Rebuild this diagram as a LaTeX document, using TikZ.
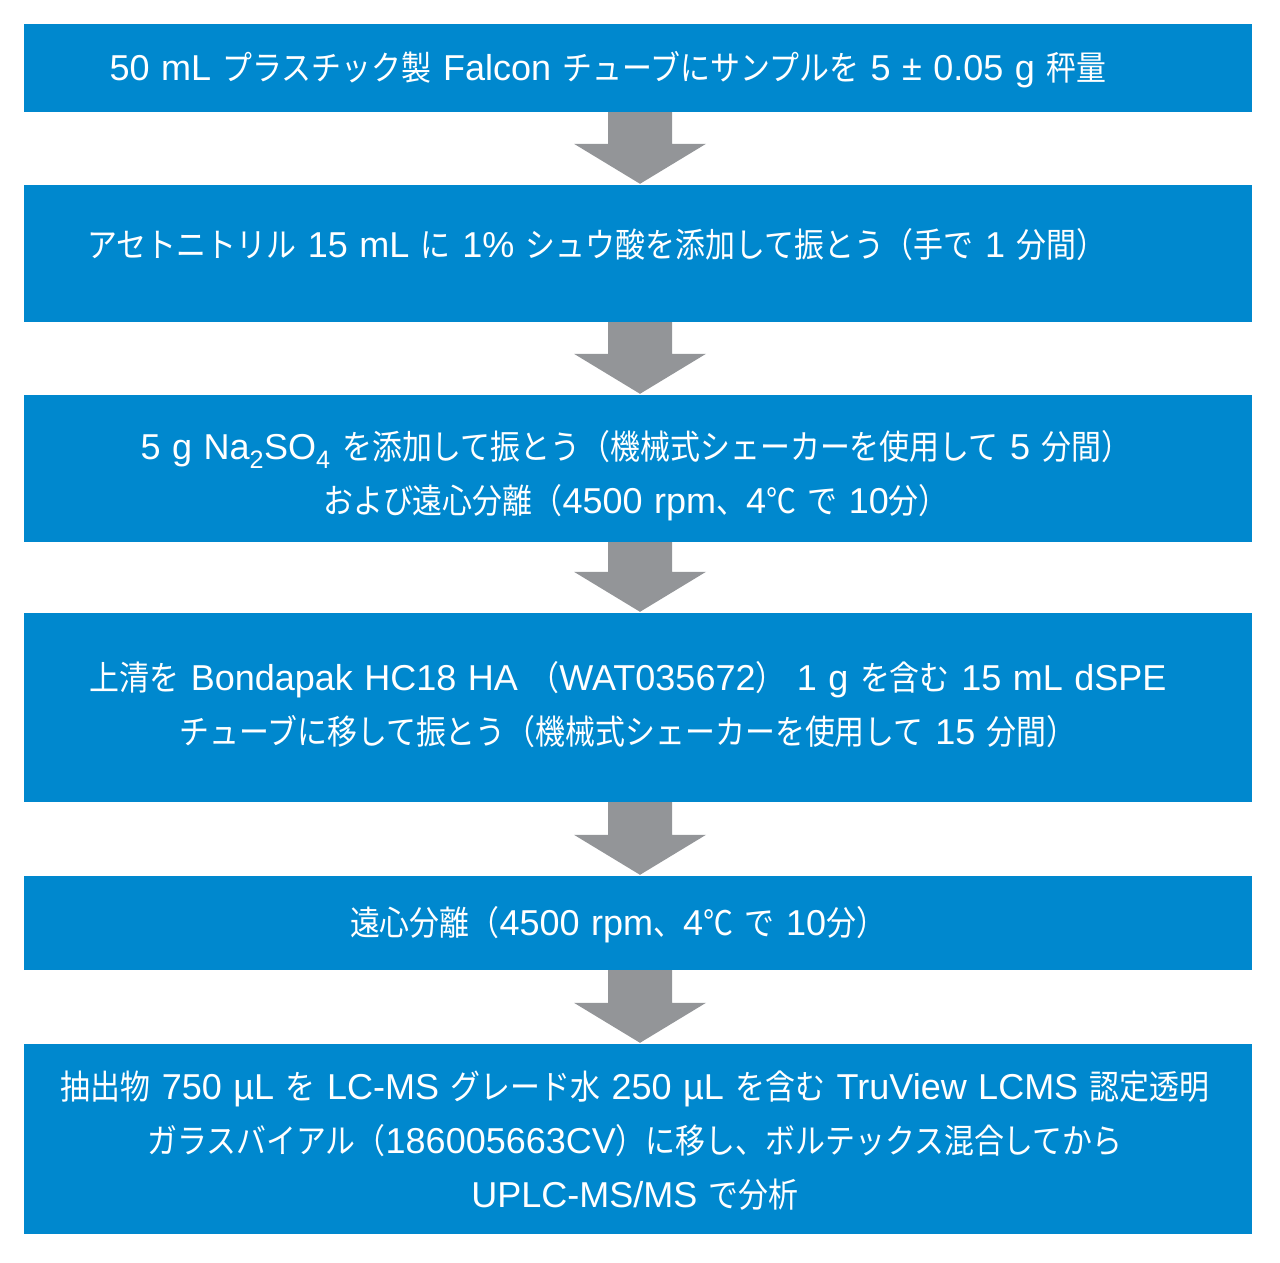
\documentclass[tikz,border=0pt]{standalone}
\usepackage{fontspec}
\setmainfont{Liberation Sans}
\newfontfamily\jpfont[FakeStretch=0.88]{Noto Sans CJK JP}
\newcommand\J[1]{{\jpfont\fontsize{34}{54}\selectfont #1}}
\newcommand\stepfont{\fontsize{36}{54}\selectfont\spaceskip=11.5pt\relax}
\usetikzlibrary{calc}
\definecolor{stepblue}{HTML}{0088CE}
\definecolor{arrowgray}{HTML}{939598}

\begin{document}
\begin{tikzpicture}[x=1pt, y=-1pt,
  stepbox/.style={fill=stepblue, draw=none, minimum width=1228pt, inner sep=0pt},
  steptext/.style={text=white, align=center, inner sep=0pt, font=\stepfont},
]
  \useasboundingbox (0,0) rectangle (1280,1262);
  % boxes
  \node[stepbox, minimum height=88pt]  (b1) at (638,68)   {};
  \node[stepbox, minimum height=137pt] (b2) at (638,253.5) {};
  \node[stepbox, minimum height=147pt] (b3) at (638,468.5) {};
  \node[stepbox, minimum height=189pt] (b4) at (638,707.5) {};
  \node[stepbox, minimum height=94pt]  (b5) at (638,923)  {};
  \node[stepbox, minimum height=190pt] (b6) at (638,1139) {};
  % block arrows
  \foreach \a/\b in {b1/b2, b2/b3, b3/b4, b4/b5, b5/b6}
    \fill[arrowgray] let \p1=(\a.south), \p2=(\b.north) in
      (\x1-30pt,\y1) -- (\x1+34pt,\y1) -- (\x1+34pt,\y2+41pt) -- (\x1+68pt,\y2+41pt)
      -- (\x1+2pt,\y2+1pt) -- (\x1-64pt,\y2+41pt) -- (\x1-30pt,\y2+41pt) -- cycle;
  % texts
  \node[steptext] (t1) at (608,70)
    {50 mL \J{プラスチック製} Falcon \J{チューブにサンプルを} 5 ± 0.05 g \J{秤量}};
  \node[steptext] (t2) at (597,245)
    {\J{アセトニトリル} 15 mL \J{に} 1\% \J{シュウ酸を添加して振とう（手で} 1 \J{分間）}};
  \node[steptext] (t3) at (636,476)
    {5 g Na\textsubscript{2}SO\textsubscript{4} \J{を添加して振とう（機械式シェーカーを使用して} 5 \J{分間）}\\
     \J{および遠心分離（}4500 rpm\J{、}4\J{℃} \J{で} 10\J{分）}};
  \node[steptext] (t4) at (628,705)
    {\J{上清を} Bondapak HC18 HA \J{（}WAT035672\J{）} 1 g \J{を含む} 15 mL dSPE\\
     \J{チューブに移して振とう（機械式シェーカーを使用して} 15 \J{分間）}};
  \node[steptext] (t5) at (618,925)
    {\J{遠心分離（}4500 rpm\J{、}4\J{℃} \J{で} 10\J{分）}};
  \node[steptext] (t6) at (635,1141)
    {\J{抽出物} 750 µL \J{を} LC-MS \J{グレード水} 250 µL \J{を含む} TruView LCMS \J{認定透明}\\
     \J{ガラスバイアル（}186005663CV\J{）に移し、ボルテックス混合してから}\\
     UPLC-MS/MS \J{で分析}};
\end{tikzpicture}
\end{document}
